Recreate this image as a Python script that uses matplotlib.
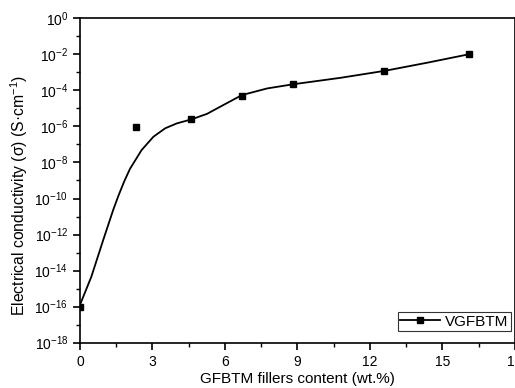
import math
import matplotlib
matplotlib.use("Agg")
import matplotlib.pyplot as plt
from matplotlib.ticker import FixedLocator, FuncFormatter, NullFormatter

plt.rcParams['font.family'] = ['Liberation Sans', 'DejaVu Sans']
plt.rcParams['mathtext.fontset'] = 'custom'
plt.rcParams['mathtext.rm'] = 'Liberation Sans'
plt.rcParams['mathtext.it'] = 'Liberation Sans:italic'

# measured data
filler_wt = [0.0, 2.3, 4.6, 6.7, 8.8, 12.6, 16.1]
conductivity = [1e-16, 8.9e-7, 2.5e-6, 5.1e-5, 2.2e-4, 1.2e-3, 1.1e-2]

# fitted curve (x, log10 sigma)
curve_x = [0.0, 0.47, 0.95, 1.37, 1.59, 1.83, 2.07, 2.55, 3.04, 3.53,
           4.01, 4.63, 5.26, 5.81, 6.7, 7.75, 8.82, 10.79, 12.63, 14.38,
           16.15]
curve_log = [-15.9, -14.34, -12.35, -10.65, -9.85, -9.05, -8.35, -7.31,
             -6.57, -6.1, -5.83, -5.6, -5.3, -4.9, -4.26, -3.89, -3.66,
             -3.3, -2.91, -2.46, -1.98]

x_ticks = [0, 3, 6, 9, 12, 15, 18]
y_major = [10.0 ** e for e in range(-18, 1, 2)]
y_minor = [10.0 ** e for e in range(-17, 0, 2)]

fig = plt.figure(figsize=(5.15, 3.88), dpi=100)
ax = fig.add_axes([0.1553, 0.1168, 0.8447, 0.836])

ax.plot(curve_x, [10.0 ** v for v in curve_log], color='black', lw=1.3,
        solid_joinstyle='round')
ax.plot(filler_wt, conductivity, ls='none', marker='s', color='black',
        ms=5)
# legend proxy
ax.plot([], [], color='black', lw=1.3, marker='s', ms=5, label='VGFBTM')

ax.set_yscale('log')
ax.set_xlim(0, 18)
ax.set_ylim(1e-18, 1)
ax.xaxis.set_major_locator(FixedLocator(x_ticks))
ax.xaxis.set_minor_locator(FixedLocator([1.5 + 3 * i for i in range(6)]))
ax.yaxis.set_major_locator(FixedLocator(y_major))
ax.yaxis.set_minor_locator(FixedLocator(y_minor))
ax.yaxis.set_minor_formatter(NullFormatter())


def yfmt(v, pos):
    e = int(round(math.log10(v)))
    return r'$10^{%d}$' % e


ax.yaxis.set_major_formatter(FuncFormatter(yfmt))

ax.tick_params(axis='both', which='major', direction='out', length=5,
               width=1.2, labelsize=10, colors='black')
ax.tick_params(axis='both', which='minor', direction='out', length=3,
               width=1.0)
ax.tick_params(axis='x', pad=4)
for s in ax.spines.values():
    s.set_linewidth(1.2)

ax.set_xlabel('GFBTM fillers content (wt.%)', fontsize=11, labelpad=2)
ax.set_ylabel(r'Electrical conductivity (σ) (S·cm$^{-1}$)', fontsize=11.3)
ax.yaxis.set_label_coords(-0.114, 0.455)

leg = ax.legend(loc='lower right', fontsize=11, frameon=True,
                fancybox=False, edgecolor='black', handlelength=2.6,
                handletextpad=0.35, borderpad=0.15, borderaxespad=0,
                bbox_to_anchor=(511 / 515, (388 - 331) / 388),
                bbox_transform=fig.transFigure)
leg.get_frame().set_linewidth(0.8)

fig.savefig('out.png', dpi=100)
